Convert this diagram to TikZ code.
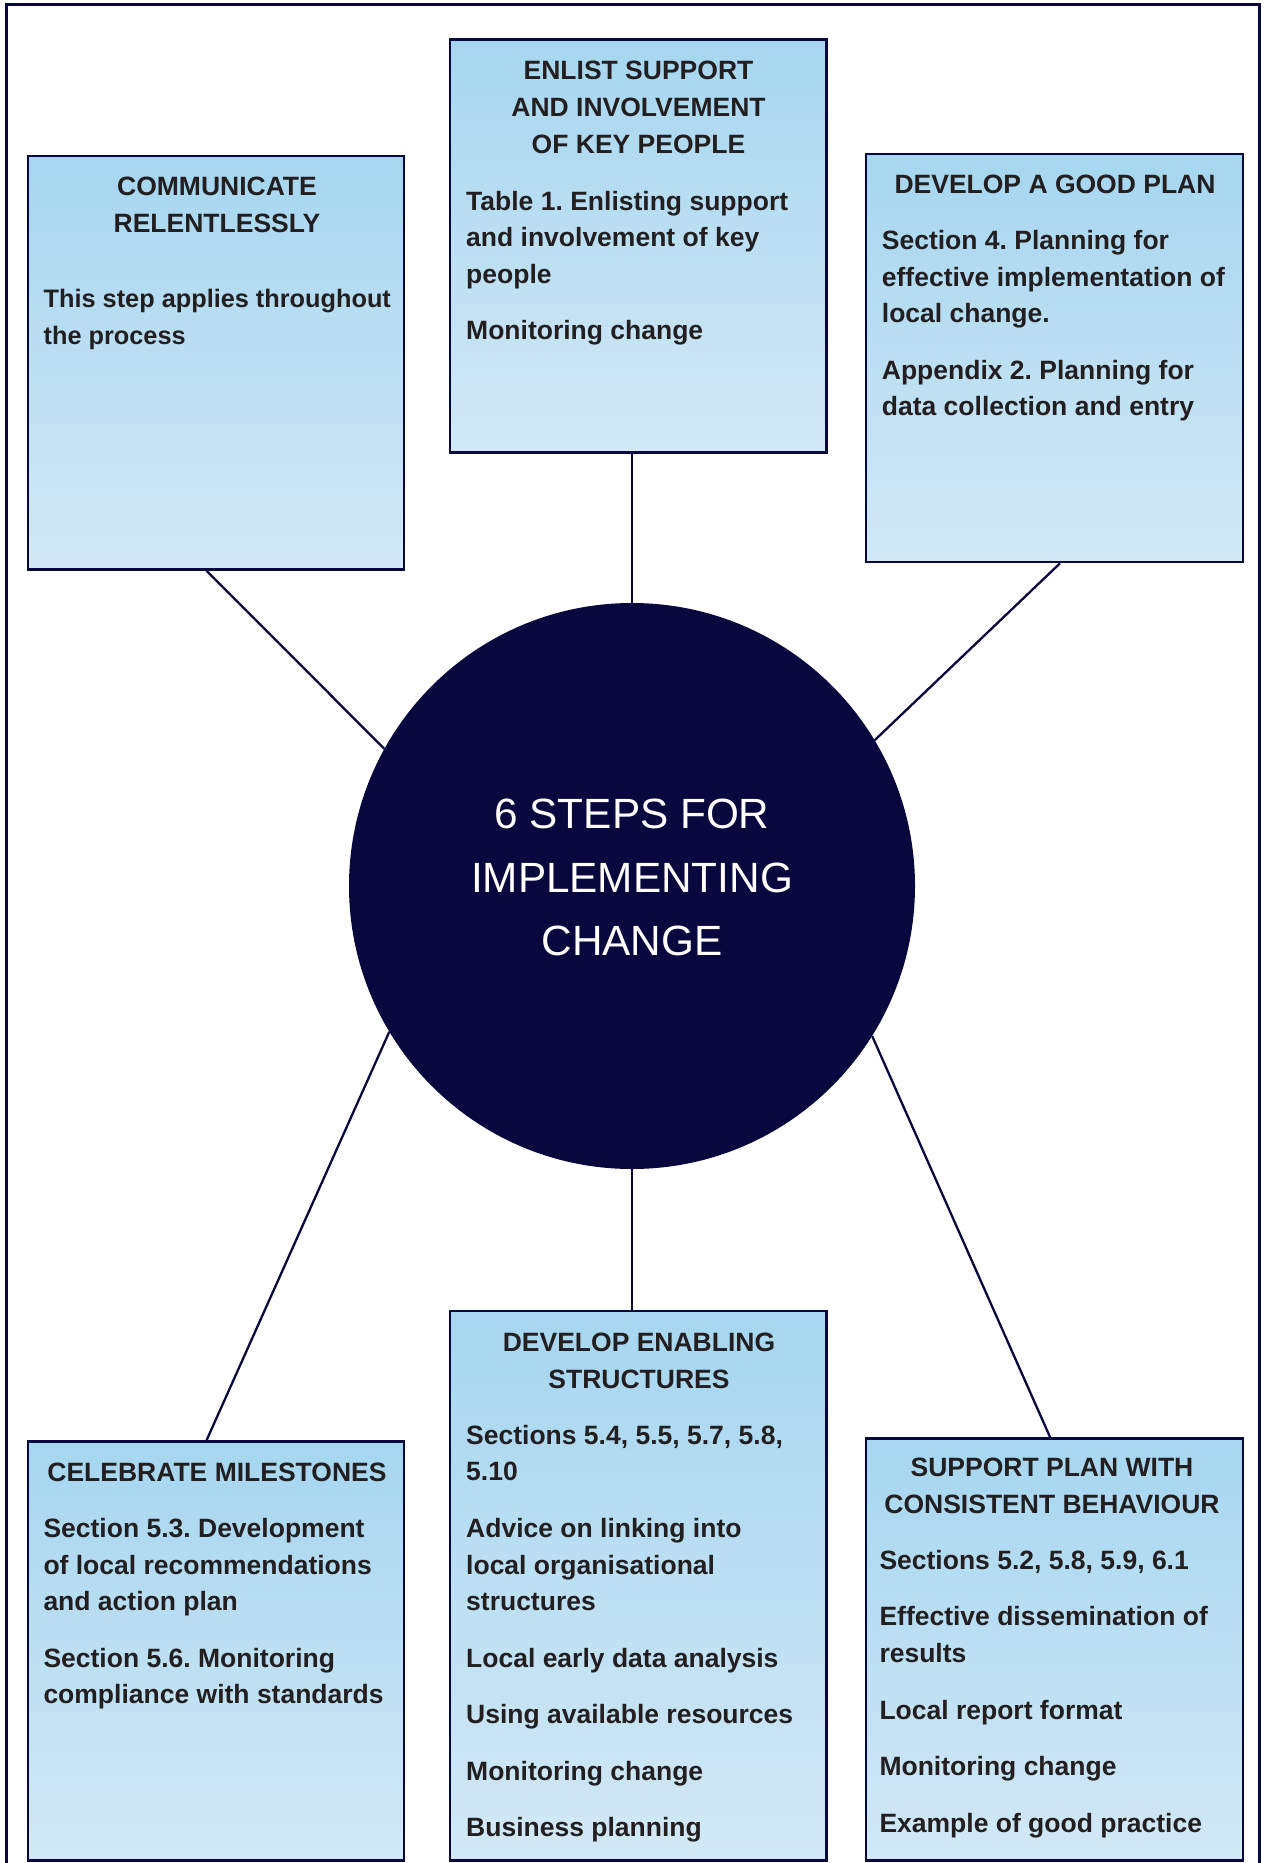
\documentclass[tikz,border=0pt]{standalone}
\usepackage{fontspec}
\setmainfont{Liberation Sans}
\definecolor{navy}{RGB}{8,7,62}
\definecolor{boxtop}{RGB}{166,214,240}
\definecolor{boxbot}{RGB}{210,232,246}
\definecolor{ink}{RGB}{35,31,32}
\newcommand{\boxtxt}[1]{\parbox[t]{370pt}{\raggedright\frenchspacing\parskip=19.8pt #1}}
\newcommand{\ttltxt}[1]{\parbox[t]{376pt}{\centering #1}}
\begin{document}
\begin{tikzpicture}[x=1pt,y=-1pt,
  stepbox/.style={draw=navy, line width=2.6pt, top color=boxtop, bottom color=boxbot, inner sep=0pt},
  link/.style={draw=navy, line width=2.3pt},
  ttl/.style={anchor=base, inner sep=0pt, text=ink, font=\bfseries\fontsize{26.5}{37.1}\selectfont},
  bdy/.style={anchor=base west, inner sep=0pt, text=ink, font=\bfseries\fontsize{26.5}{36.7}\selectfont},
  bdysmall/.style={bdy, font=\bfseries\fontsize{25.3}{37.1}\selectfont},
  hub/.style={circle, fill=navy, inner sep=0pt, minimum size=566pt},
  hubtxt/.style={anchor=base, inner sep=0pt, text=white, font=\fontsize{42.3}{63.5}\selectfont}]
\useasboundingbox (0,0) rectangle (1266,1863);
\clip (0,0) rectangle (1266,1863);
% outer frame
\draw[navy, line width=2.6pt] (6.5,1880) -- (6.5,4.5) -- (1259.3,4.5) -- (1259.3,1880);
% boxes
\node[stepbox, minimum width=376pt, minimum height=413.5pt] (b1) at (216,362.75) {};
\node[stepbox, minimum width=376.7pt, minimum height=413.4pt] (b2) at (638.35,246) {};
\node[stepbox, minimum width=377pt, minimum height=408pt] (b3) at (1054.5,358) {};
\node[stepbox, minimum width=376pt, minimum height=418.8pt] (b4) at (216,1651.1) {};
\node[stepbox, minimum width=376.7pt, minimum height=549.5pt] (b5) at (638.35,1585.75) {};
\node[stepbox, minimum width=377pt, minimum height=422.2pt] (b6) at (1054.5,1649.4) {};
% hub
\node[hub] (c) at (632,886) {};
\node[hubtxt] (ct) at (632,828.6) {\parbox[t]{540pt}{\centering 6 STEPS FOR\\IMPLEMENTING\\CHANGE}};
% titles
\node[ttl] (t1) at (217,195) {\ttltxt{COMMUNICATE\\RELENTLESSLY}};
\node[ttl] (t2) at (638.5,79.3) {\ttltxt{ENLIST SUPPORT\\AND INVOLVEMENT\\OF KEY PEOPLE}};
\node[ttl] (t3) at (1055,193.3) {\ttltxt{DEVELOP A GOOD PLAN}};
\node[ttl] (t4) at (217,1481.7) {\ttltxt{CELEBRATE MILESTONES}};
\node[ttl] (t5) at (639,1351.4) {\ttltxt{DEVELOP ENABLING\\STRUCTURES}};
\node[ttl] (t6) at (1052,1476) {\ttltxt{SUPPORT PLAN WITH\\CONSISTENT BEHAVIOUR}};
% bodies
\node[bdysmall] (d1) at (43.5,307.3) {\boxtxt{This step applies throughout\\the process}};
\node[bdy] (d2) at (466,210) {\boxtxt{Table 1. Enlisting support\\and involvement of key\\people\par Monitoring change}};
\node[bdy] (d3) at (881.7,249.3) {\boxtxt{Section 4. Planning for\\effective implementation of\\local change.\par Appendix 2. Planning for\\data collection and entry}};
\node[bdy] (d4) at (43.3,1537.3) {\boxtxt{Section 5.3. Development\\of local recommendations\\and action plan\par Section 5.6. Monitoring\\compliance with standards}};
\node[bdy] (d5) at (466,1444.2) {\boxtxt{Sections 5.4, 5.5, 5.7, 5.8,\\5.10\par Advice on linking into\\local organisational\\structures\par Local early data analysis\par Using available resources\par Monitoring change\par Business planning}};
\node[bdy] (d6) at (879.3,1569.3) {\boxtxt{Sections 5.2, 5.8, 5.9, 6.1\par Effective dissemination of\\results\par Local report format\par Monitoring change\par Example of good practice}};
% connectors
\draw[link] (c.north |- b2.south) -- (c.north);
\draw[link] (c.south) -- (c.south |- b5.north);
\draw[link] ([xshift=-9.5pt]b1.south) -- (c.151.5);
\draw[link] ([xshift=5.5pt]b3.south) -- (c.31.3);
\draw[link] ([xshift=-9.5pt]b4.north) -- (c.211.3);
\draw[link] ([xshift=-4.5pt]b6.north) -- (c.328.7);
\end{tikzpicture}
\end{document}
